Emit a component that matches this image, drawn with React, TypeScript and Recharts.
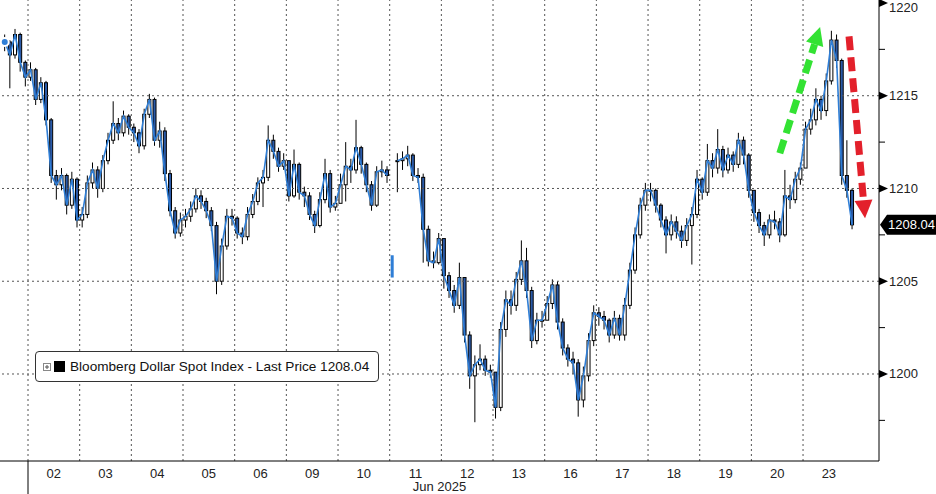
import { ComposedChart, Bar, Line, XAxis, YAxis, ReferenceLine } from 'recharts'

// [close, high, low]; close null = stray print with no line
type Tick = [number | null, number, number]

const dayLabels = ['02', '03', '04', '05', '06', '09', '10', '11', '12', '13', '16', '17', '18', '19', '20', '23']

const may30: Tick[] = [
  [1217.9, 1218.3, 1217.4], [1217.2, 1218.0, 1215.4], [1218.3, 1218.6, 1217.0], [1216.8, 1218.4, 1216.3], [1216.0, 1216.9, 1215.5],
]
const jun02: Tick[] = [
  [1216.4, 1216.8, 1215.8], [1214.8, 1216.5, 1214.5], [1215.7, 1216.0, 1214.6], [1213.7, 1215.8, 1213.4], [1210.7, 1213.8, 1210.3],
  [1210.2, 1211.0, 1209.4], [1210.7, 1211.1, 1209.9], [1209.1, 1210.8, 1208.6], [1210.5, 1210.9, 1208.9], [1208.3, 1210.6, 1207.9],
]
const jun03: Tick[] = [
  [1208.6, 1209.0, 1207.9], [1210.3, 1210.7, 1208.4], [1211.0, 1211.4, 1210.0], [1210.0, 1211.2, 1209.5], [1211.5, 1211.8, 1209.8],
  [1212.6, 1213.0, 1211.3], [1213.5, 1214.7, 1212.4], [1213.0, 1213.8, 1212.6], [1213.9, 1214.2, 1212.8], [1213.3, 1214.0, 1212.9],
]
const jun04: Tick[] = [
  [1213.0, 1213.5, 1212.5], [1212.3, 1213.2, 1211.9], [1214.0, 1214.3, 1212.1], [1214.8, 1215.1, 1213.8], [1212.6, 1214.9, 1212.3],
  [1213.1, 1213.6, 1212.2], [1210.8, 1213.3, 1210.4], [1208.8, 1211.0, 1208.5], [1207.6, 1209.0, 1207.3], [1208.3, 1208.7, 1207.4],
]
const jun05: Tick[] = [
  [1208.5, 1208.9, 1207.9], [1208.9, 1209.3, 1208.2], [1209.6, 1210.0, 1208.7], [1209.3, 1209.9, 1208.9], [1208.8, 1209.5, 1208.4],
  [1208.0, 1209.0, 1207.7], [1205.0, 1208.2, 1204.3], [1206.9, 1207.3, 1204.8], [1208.5, 1208.9, 1206.7], [1208.4, 1208.9, 1208.0],
]
const jun06: Tick[] = [
  [1207.6, 1208.5, 1207.3], [1207.4, 1207.9, 1207.0], [1208.6, 1209.0, 1207.2], [1209.3, 1209.7, 1208.4], [1210.3, 1210.6, 1209.1],
  [1210.6, 1211.0, 1209.0], [1212.6, 1213.4, 1210.4], [1212.0, 1212.9, 1211.6], [1211.2, 1212.2, 1210.9], [1211.5, 1211.9, 1211.0],
]
const jun09: Tick[] = [
  [1209.6, 1209.9, 1209.3], [1211.3, 1212.1, 1209.5], [1209.8, 1211.4, 1209.4], [1209.6, 1210.1, 1209.0], [1208.6, 1209.8, 1208.3],
  [1208.0, 1208.8, 1207.6], [1209.4, 1209.8, 1207.9], [1210.8, 1211.6, 1209.2], [1209.0, 1211.0, 1208.7], [1209.2, 1209.6, 1208.8],
]
const jun10: Tick[] = [
  [1210.2, 1210.8, 1209.6], [1211.2, 1212.5, 1209.3], [1211.0, 1211.6, 1210.3], [1212.2, 1213.7, 1210.8], [1211.3, 1212.3, 1210.8],
  [1210.2, 1211.4, 1209.8], [1209.1, 1210.4, 1208.8], [1210.9, 1211.2, 1209.0], [1211.0, 1211.5, 1210.6], [1210.7, 1211.2, 1210.3],
]
const jun11: Tick[] = [
  [null, 1206.4, 1205.2], [1211.5, 1211.9, 1209.8], [1211.6, 1212.0, 1211.0], [1211.8, 1212.3, 1211.2], [1210.7, 1211.9, 1210.4],
  [1210.6, 1211.1, 1210.3], [1207.8, 1210.8, 1206.0], [1206.1, 1208.0, 1205.8], [1206.0, 1206.6, 1205.7], [1207.3, 1207.6, 1205.9],
]
const jun12: Tick[] = [
  [1205.3, 1206.0, 1204.6], [1204.5, 1205.5, 1204.1], [1203.7, 1204.8, 1203.3], [1205.2, 1206.0, 1203.5], [1202.1, 1205.0, 1201.7],
  [1199.9, 1202.3, 1199.2], [1200.5, 1201.0, 1197.4], [1200.8, 1201.6, 1200.2], [1200.2, 1201.0, 1199.9], [1200.1, 1200.5, 1199.8],
]
const jun13: Tick[] = [
  [1198.2, 1200.0, 1197.6], [1202.4, 1202.8, 1198.0], [1204.0, 1204.5, 1202.0], [1203.7, 1204.5, 1203.2], [1205.1, 1205.5, 1203.4],
  [1206.1, 1207.2, 1204.8], [1204.5, 1206.8, 1204.1], [1201.8, 1204.7, 1201.4], [1202.9, 1203.3, 1201.6], [1202.9, 1203.4, 1202.5],
]
const jun16: Tick[] = [
  [1203.8, 1204.2, 1203.0], [1204.8, 1205.1, 1203.5], [1202.8, 1205.0, 1202.4], [1201.4, 1203.0, 1201.0], [1200.8, 1201.6, 1200.4],
  [1200.6, 1201.2, 1200.0], [1198.6, 1200.8, 1197.7], [1199.9, 1200.4, 1198.2], [1201.8, 1202.2, 1199.6], [1203.3, 1203.7, 1201.5],
]
const jun17: Tick[] = [
  [1203.1, 1203.6, 1202.6], [1202.9, 1203.4, 1202.4], [1202.1, 1203.0, 1201.7], [1203.0, 1203.4, 1201.9], [1202.1, 1203.2, 1201.8],
  [1203.7, 1204.1, 1201.8], [1205.6, 1206.0, 1203.5], [1207.5, 1207.9, 1205.4], [1209.1, 1209.5, 1207.3], [1209.9, 1210.3, 1208.8],
]
const jun18: Tick[] = [
  [1209.9, 1210.3, 1209.3], [1209.1, 1210.0, 1208.7], [1208.3, 1209.2, 1207.9], [1207.5, 1208.5, 1206.5], [1208.2, 1208.6, 1207.2],
  [1207.7, 1208.5, 1207.3], [1207.2, 1208.0, 1206.8], [1208.0, 1208.4, 1206.9], [1208.6, 1209.0, 1205.9], [1210.5, 1211.0, 1208.4],
]
const jun19: Tick[] = [
  [1209.8, 1210.6, 1209.4], [1211.5, 1212.4, 1209.6], [1211.1, 1211.9, 1210.6], [1212.1, 1213.2, 1210.8], [1211.0, 1212.3, 1210.6],
  [1211.8, 1212.2, 1210.8], [1211.3, 1212.0, 1210.9], [1212.6, 1213.0, 1211.1], [1211.8, 1212.8, 1211.3], [1209.9, 1211.9, 1209.5],
]
const jun20: Tick[] = [
  [1208.7, 1209.3, 1208.2], [1208.0, 1208.9, 1207.6], [1207.5, 1208.2, 1206.9], [1208.3, 1208.6, 1207.3], [1208.2, 1208.8, 1207.8],
  [1207.5, 1208.4, 1207.1], [1209.6, 1211.0, 1207.4], [1209.4, 1210.2, 1208.9], [1210.5, 1210.9, 1209.2], [1211.1, 1211.4, 1210.2],
]
const jun23: Tick[] = [
  [1213.2, 1213.6, 1212.1], [1213.7, 1214.3, 1212.9], [1214.8, 1215.4, 1213.4], [1214.2, 1215.0, 1213.7], [1215.8, 1216.2, 1213.9],
  [1218.0, 1218.5, 1215.6], [1216.9, 1218.3, 1216.5], [1210.7, 1217.0, 1210.2], [1209.9, 1212.6, 1209.5], [1208.04, 1210.0, 1207.8],
]

const sessions = [jun02, jun03, jun04, jun05, jun06, jun09, jun10, jun11, jun12, jun13, jun16, jun17, jun18, jun19, jun20, jun23]

const lastPrice = 1208.04
const yTicks = [1197.5, 1200, 1202.5, 1205, 1207.5, 1210, 1212.5, 1215, 1217.5, 1220]
const gridLevels = [1200, 1205, 1210, 1215]
const dayBreaks = dayLabels.map((_, i) => i)
const xTicks = [0, ...dayLabels.map((_, i) => i + 0.5)]

// arrows drawn on top: [tail, tip] in (day, price)
const upArrow = [{ x: 14.55, y: 1211.9 }, { x: 15.33, y: 1218.7 }]
const downArrow = [{ x: 15.89, y: 1218.2 }, { x: 16.2, y: 1208.4 }]

const SLOTS = 10
type Row = { t: number; close: number | null; high: number; low: number; open: number }
const rows: Row[] = []
let prevClose: number | null = null
const pushTick = (t: number, [close, high, low]: Tick) => {
  rows.push({ t, close, high, low, open: prevClose ?? close ?? high })
  prevClose = close
}
may30.forEach((v, i) => pushTick(-1 + (SLOTS - may30.length + i + 0.5) / SLOTS, v))
sessions.forEach((day, d) => day.forEach((v, i) => pushTick(d + (i + 0.5) / SLOTS, v)))

const FONT = '"Liberation Sans", Arial, sans-serif'
const BLUE = '#2f7ed6'

function Candle(props: any) {
  const { x, y, width, height, payload } = props
  if (payload == null || x == null || y == null) return null
  const span = payload.high - payload.low
  const k = span > 0 ? height / span : 0
  const yOf = (v: number) => y + (payload.high - v) * k
  const cx = x + width / 2
  if (payload.close == null) {
    return <rect x={cx - 1.5} y={y} width={3} height={Math.max(1, height)} fill={BLUE} />
  }
  const up = payload.close >= payload.open
  const top = yOf(Math.max(payload.open, payload.close))
  const bot = yOf(Math.min(payload.open, payload.close))
  return (
    <g>
      <line x1={cx} x2={cx} y1={y} y2={y + height} stroke="#000" strokeWidth={1} />
      <rect x={cx - 1.5} y={top} width={3} height={Math.max(1, bot - top)}
        fill={up ? '#fff' : '#2a5aa8'} stroke="#000" strokeWidth={1} />
    </g>
  )
}

function DayTick(props: any) {
  const { x, y, payload } = props
  if (payload.value === 0) {
    return <line x1={x} x2={x} y1={y} y2={y + 33} stroke="#000" strokeWidth={1} />
  }
  return (
    <text x={x} y={y + 12} textAnchor="middle" dominantBaseline="central" fontSize={13} fontFamily={FONT} fill="#222">
      {dayLabels[Math.floor(payload.value)]}
    </text>
  )
}

function PriceAxisTick(props: any) {
  const { x, y, payload } = props
  if (payload.value % 5 !== 0) {
    return <line x1={x} x2={x + 6} y1={y} y2={y} stroke="#000" strokeWidth={1} />
  }
  return (
    <g>
      <polygon points={`${x},${y - 4} ${x + 9},${y} ${x},${y + 4}`} fill="#000" />
      <text x={x + 10} y={Math.max(y, 7)} dominantBaseline="central" fontSize={13} fontFamily={FONT} fill="#222">
        {payload.value}
      </text>
    </g>
  )
}

function PriceTag(props: any) {
  const { viewBox } = props
  if (!viewBox) return null
  const xr = viewBox.x + viewBox.width
  const yc = viewBox.y
  return (
    <g>
      <polygon points={`${xr + 1},${yc} ${xr + 8},${yc - 10} 936,${yc - 10} 936,${yc + 10} ${xr + 8},${yc + 10}`} fill="#000" />
      <text x={xr + 9} y={yc} dominantBaseline="central" fontSize={13} fontFamily={FONT} fill="#fff">
        {lastPrice.toFixed(2)}
      </text>
    </g>
  )
}

function makeArrow(color: string) {
  return (props: any) => {
    const { x1, y1, x2, y2 } = props
    if ([x1, y1, x2, y2].some((v) => v == null || Number.isNaN(v))) return null
    const dx = x2 - x1
    const dy = y2 - y1
    const len = Math.hypot(dx, dy)
    const ux = dx / len
    const uy = dy / len
    const head = 18
    const bx = x2 - ux * head
    const by = y2 - uy * head
    const px = -uy * 9
    const py = ux * 9
    return (
      <g>
        <line x1={x1} y1={y1} x2={bx} y2={by} stroke={color} strokeWidth={7} strokeDasharray="14 7" />
        <polygon points={`${x2},${y2} ${bx + px},${by + py} ${bx - px},${by - py}`} fill={color} />
      </g>
    )
  }
}

export default function App() {
  return (
    <div style={{ position: 'absolute', left: 0, top: 0, width: 936, height: 494, background: '#fff' }}>
      <ComposedChart width={936} height={494} data={rows} margin={{ top: 0, right: 0, bottom: 0, left: 0 }}>
        <XAxis
          type="number"
          dataKey="t"
          domain={[-0.542, 16.47]}
          ticks={xTicks}
          interval={0}
          allowDataOverflow
          height={33}
          tickSize={0}
          tickMargin={0}
          tickLine={false}
          axisLine={{ stroke: '#000' }}
          tick={<DayTick />}
          label={{ value: 'Jun 2025', position: 'insideBottom', offset: 3, fill: '#222', fontSize: 13, fontFamily: FONT }}
        />
        <YAxis
          orientation="right"
          type="number"
          domain={[1195.31, 1220.16]}
          ticks={yTicks}
          interval={0}
          allowDataOverflow
          width={57}
          tickSize={0}
          tickMargin={0}
          tickLine={false}
          axisLine={{ stroke: '#000' }}
          tick={<PriceAxisTick />}
        />
        {dayBreaks.map((d) => (
          <ReferenceLine key={`v${d}`} x={d} stroke="#555" strokeDasharray="2 3" />
        ))}
        {gridLevels.map((v) => (
          <ReferenceLine key={`h${v}`} y={v} stroke="#555" strokeDasharray="2 3" />
        ))}
        <Bar dataKey={(r: Row) => [r.low, r.high]} barSize={3} shape={<Candle />} isAnimationActive={false} />
        <Line type="linear" dataKey="close" stroke={BLUE} strokeWidth={1.6} dot={false} connectNulls={false} isAnimationActive={false} />
        <ReferenceLine y={lastPrice} stroke="none" ifOverflow="visible" label={<PriceTag />} />
        <ReferenceLine segment={upArrow} ifOverflow="visible" shape={makeArrow('#33e233')} />
        <ReferenceLine segment={downArrow} ifOverflow="visible" shape={makeArrow('#e3202b')} />
      </ComposedChart>
      <div
        style={{
          position: 'absolute', left: 35, top: 351, width: 344, height: 31, boxSizing: 'border-box',
          border: '1px solid #333', borderRadius: 4, background: '#fff', display: 'flex', alignItems: 'center',
          fontFamily: FONT, fontSize: 13.6, color: '#111', whiteSpace: 'nowrap',
        }}
      >
        <svg width={8} height={8} style={{ marginLeft: 7 }}>
          <rect x={0.5} y={0.5} width={7} height={7} fill="#fff" stroke="#888" />
          <line x1={2} x2={6} y1={4} y2={4} stroke="#555" />
          <line x1={4} x2={4} y1={2} y2={6} stroke="#555" />
        </svg>
        <span style={{ display: 'inline-block', width: 11, height: 11, background: '#000', marginLeft: 3 }} />
        <span style={{ marginLeft: 5 }}>Bloomberg Dollar Spot Index - Last Price {lastPrice.toFixed(2)}</span>
      </div>
    </div>
  )
}
